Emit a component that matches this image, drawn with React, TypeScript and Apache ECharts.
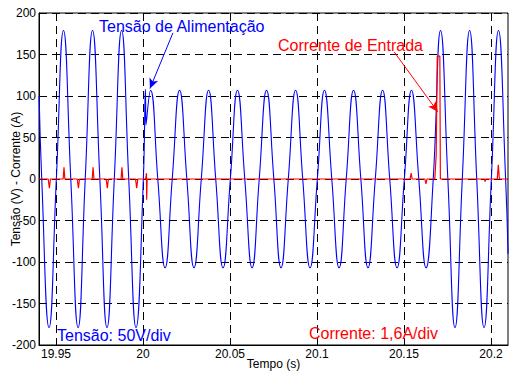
import React, { useEffect, useRef } from "react";
import * as echarts from "echarts";

// Tick labels of the time axis
const timeTicks = [19.95, 20, 20.05, 20.1, 20.15, 20.2];

// Supply voltage: peaks and zero crossings (V)
const voltTime = [
  19.9403, 19.9418, 19.946, 19.9502, 19.9543, 19.9585, 19.9627, 19.9668, 19.971, 19.9752,
  19.9793, 19.9835, 19.9877, 19.9918, 19.996, 20.0002, 20.0014, 20.0017, 20.0043, 20.0085,
  20.0127, 20.0168, 20.021, 20.0252, 20.0293, 20.0335, 20.0377, 20.0418, 20.046, 20.0502,
  20.0543, 20.0585, 20.0627, 20.0668, 20.071, 20.0752, 20.0793, 20.0835, 20.0877, 20.0918,
  20.096, 20.1002, 20.1043, 20.1085, 20.1127, 20.1168, 20.121, 20.1252, 20.1293, 20.1335,
  20.1377, 20.1418, 20.146, 20.1502, 20.1543, 20.1585, 20.1627, 20.1668, 20.171, 20.1752,
  20.1793, 20.1835, 20.1877, 20.1918, 20.196, 20.2002, 20.2043, 20.2084, 20.2098,
];
const voltValue = [
  100, 0, -179, 0, 179, 0, -179, 0, 179, 0,
  -179, 0, 179, 0, -179, 0, 108, 65, 107, 0,
  -107, 0, 107, 0, -107, 0, 107, 0, -107, 0,
  107, 0, -107, 0, 107, 0, -107, 0, 107, 0,
  -107, 0, 107, 0, -107, 0, 107, 0, -107, 0,
  107, 0, -107, 0, 107, 0, -107, 0, 179, 0,
  -179, 0, 179, 0, -179, 0, 179, 0, -90,
];

// Input current (scaled, 1.6 A/div)
const currTime = [
  19.9403,
  19.9455, 19.9462, 19.9468,
  19.9541, 19.9546, 19.9551,
  19.9622, 19.9629, 19.9635,
  19.9708, 19.9713, 19.9718,
  19.9788, 19.9795, 19.9801,
  19.9874, 19.9879, 19.9884,
  19.9957, 19.9964, 19.997,
  20.0015, 20.002, 20.0021, 20.0024,
  20.1535, 20.1541, 20.1547,
  20.162, 20.1626, 20.1632,
  20.1677, 20.1685, 20.1691, 20.1706, 20.1709,
  20.1962, 20.1966, 20.197,
  20.2036, 20.2042, 20.2048,
  20.2098,
];
const currValue = [
  0,
  0, -11, 0,
  0, 14, 0,
  0, -11, 0,
  0, 14, 0,
  0, -11, 0,
  0, 14, 0,
  0, -11, 0,
  0, 7, -25, 0,
  0, 7, 0,
  0, -6, 0,
  0, 29, 148, 148, 0,
  0, -3, 0,
  0, 17, 0,
  0,
];

// Annotation arrows (data coordinates): [start, tip]
const voltArrow = [[20.0172, 176], [20.004, 109]];
const currArrow = [[20.1444, 153], [20.1694, 81]];

const FONT = "'Liberation Sans', Arial, Helvetica, sans-serif";

export default function App() {
  const ref = useRef<HTMLDivElement>(null);

  useEffect(() => {
    const chart = echarts.init(ref.current!, null, { renderer: "svg" });
    const vData = voltTime.map((t, i) => [t, voltValue[i]]);
    const cData = currTime.map((t, i) => [t, currValue[i]]);
    const fmt = (v: number) => String(parseFloat(Number(v).toFixed(2)));

    chart.setOption({
      animation: false,
      backgroundColor: "#ffffff",
      grid: {
        left: 39,
        right: 1,
        top: 13,
        bottom: 37,
        containLabel: false,
        outerBoundsMode: "none",
        show: true,
        borderColor: "#000",
        borderWidth: 1,
        backgroundColor: "transparent",
      },
      xAxis: {
        type: "value",
        min: 19.94023,
        max: 20.20977,
        name: "Tempo (s)",
        nameLocation: "middle",
        nameGap: 13,
        nameMoveOverlap: false,
        nameTextStyle: { color: "#000", fontSize: 12, fontFamily: FONT },
        axisLine: { show: true, onZero: false, lineStyle: { color: "#000", width: 1 } },
        axisTick: {
          show: true,
          inside: true,
          length: 4,
          customValues: timeTicks,
          lineStyle: { color: "#000" },
        },
        axisLabel: {
          customValues: timeTicks,
          formatter: fmt,
          margin: 3,
          color: "#000",
          fontSize: 12,
          fontFamily: FONT,
        },
        splitLine: { show: true, lineStyle: { color: "#000", type: [8, 5], width: 1 } },
      },
      yAxis: {
        type: "value",
        min: -200,
        max: 200,
        interval: 50,
        name: "Tensão (V) - Corrente (A)",
        nameLocation: "middle",
        nameGap: 17,
        nameMoveOverlap: false,
        nameTextStyle: { color: "#000", fontSize: 12, fontFamily: FONT },
        axisLine: { show: true, onZero: false, lineStyle: { color: "#000", width: 1 } },
        axisTick: { show: true, inside: true, length: 4, lineStyle: { color: "#000" } },
        axisLabel: { margin: 3, color: "#000", fontSize: 12, fontFamily: FONT },
        splitLine: { show: true, lineStyle: { color: "#000", type: [8, 5], width: 1 } },
      },
      series: [
        {
          type: "line",
          data: vData,
          smooth: 0.5,
          showSymbol: false,
          symbol: "none",
          lineStyle: { color: "#0000ff", width: 1.1 },
          itemStyle: { color: "#0000ff" },
          z: 3,
          markLine: {
            silent: true,
            symbol: ["none", "arrow"],
            symbolSize: [7, 10],
            label: { show: false },
            lineStyle: { color: "#0000ff", width: 1, type: "solid" },
            data: [[{ coord: voltArrow[0] }, { coord: voltArrow[1] }]],
          },
        },
        {
          type: "line",
          data: cData,
          smooth: false,
          showSymbol: false,
          symbol: "none",
          lineStyle: { color: "#ff0000", width: 1.2 },
          itemStyle: { color: "#ff0000" },
          z: 4,
          markLine: {
            silent: true,
            symbol: ["none", "arrow"],
            symbolSize: [7, 10],
            label: { show: false },
            lineStyle: { color: "#ff0000", width: 1, type: "solid" },
            data: [[{ coord: currArrow[0] }, { coord: currArrow[1] }]],
          },
        },
      ],
      graphic: [
        {
          type: "text",
          x: 99,
          y: 26,
          z: 10,
          style: {
            text: "Tensão de Alimentação",
            fill: "#0000ff",
            fontSize: 16,
            fontFamily: FONT,
            align: "left",
            verticalAlign: "middle",
          },
        },
        {
          type: "text",
          x: 278,
          y: 45,
          z: 10,
          style: {
            text: "Corrente de Entrada",
            fill: "#ff0000",
            fontSize: 16,
            fontFamily: FONT,
            align: "left",
            verticalAlign: "middle",
          },
        },
        {
          type: "text",
          x: 57,
          y: 335,
          z: 10,
          style: {
            text: "Tensão: 50V/div",
            fill: "#0000ff",
            fontSize: 16,
            fontFamily: FONT,
            align: "left",
            verticalAlign: "middle",
          },
        },
        {
          type: "text",
          x: 309,
          y: 333,
          z: 10,
          style: {
            text: "Corrente: 1,6A/div",
            fill: "#ff0000",
            fontSize: 16,
            fontFamily: FONT,
            align: "left",
            verticalAlign: "middle",
          },
        },
      ],
    });

    return () => chart.dispose();
  }, []);

  return (
    <div
      ref={ref}
      style={{ position: "fixed", left: 0, top: 0, width: 509, height: 382, background: "#fff" }}
    />
  );
}
